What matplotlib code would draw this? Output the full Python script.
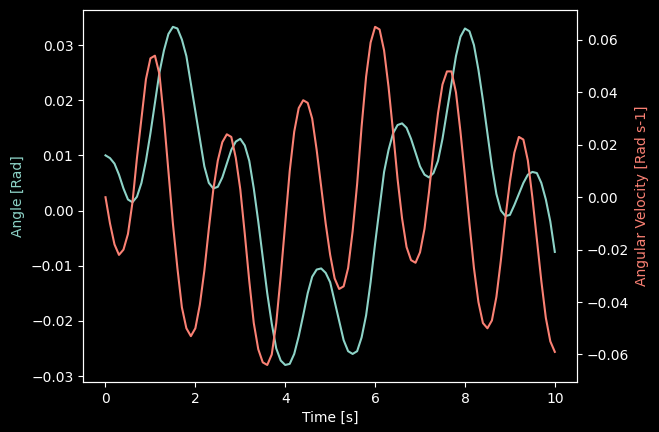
import matplotlib
matplotlib.use("Agg")
import matplotlib.pyplot as plt

plt.style.use("dark_background")

time_s = [round(0.1 * i, 1) for i in range(101)]
angle = [
    0.010, 0.0095, 0.0085, 0.0065, 0.004, 0.002, 0.0015, 0.0025, 0.005, 0.009,
    0.014, 0.0195, 0.025, 0.029, 0.032, 0.0333, 0.033, 0.031, 0.028, 0.023,
    0.018, 0.013, 0.008, 0.005, 0.004, 0.0043, 0.006, 0.0085, 0.011, 0.0125,
    0.013, 0.0118, 0.009, 0.004, -0.002, -0.0085, -0.015, -0.0205, -0.025, -0.0272,
    -0.028, -0.0278, -0.026, -0.0228, -0.019, -0.015, -0.012, -0.0107, -0.0105, -0.0113,
    -0.013, -0.0165, -0.020, -0.0235, -0.0255, -0.026, -0.0255, -0.023, -0.019, -0.013,
    -0.006, 0.0005, 0.007, 0.011, 0.014, 0.0155, 0.0158, 0.015, 0.013, 0.0105,
    0.008, 0.0065, 0.006, 0.0068, 0.009, 0.013, 0.018, 0.023, 0.028, 0.0315,
    0.033, 0.0325, 0.030, 0.0255, 0.020, 0.014, 0.008, 0.003, 0.000, -0.001,
    -0.0008, 0.001, 0.003, 0.005, 0.0065, 0.007, 0.0068, 0.005, 0.002, -0.002,
    -0.0075,
]
ang_vel = [
    0.0, -0.010, -0.018, -0.022, -0.020, -0.014, -0.002, 0.015, 0.030, 0.045,
    0.053, 0.054, 0.047, 0.030, 0.010, -0.010, -0.027, -0.042, -0.050, -0.053,
    -0.050, -0.041, -0.028, -0.012, 0.003, 0.014, 0.021, 0.024, 0.023, 0.015,
    0.003, -0.014, -0.032, -0.048, -0.058, -0.063, -0.064, -0.060, -0.048, -0.030,
    -0.010, 0.010, 0.025, 0.034, 0.037, 0.036, 0.030, 0.018, 0.004, -0.010,
    -0.022, -0.031, -0.035, -0.034, -0.027, -0.013, 0.005, 0.027, 0.046, 0.059,
    0.065, 0.064, 0.056, 0.042, 0.025, 0.007, -0.008, -0.019, -0.024, -0.025,
    -0.021, -0.012, 0.002, 0.018, 0.032, 0.043, 0.048, 0.048, 0.040, 0.025,
    0.008, -0.010, -0.027, -0.040, -0.048, -0.050, -0.047, -0.038, -0.024, -0.008,
    0.006, 0.017, 0.023, 0.022, 0.014, 0.000, -0.016, -0.032, -0.046, -0.055,
    -0.059,
]

c1, c2 = "#8dd3c7", "#fa8174"
fig, ax = plt.subplots(figsize=(6.59, 4.32), dpi=100)
ax.plot(time_s, angle, color=c1)
ax.set_xlabel("Time [s]")
ax.set_ylabel("Angle [Rad]", color=c1)
ax2 = ax.twinx()
ax2.plot(time_s, ang_vel, color=c2)
ax2.set_ylabel("Angular Velocity [Rad s-1]", color=c2)
fig.subplots_adjust(left=0.126, right=0.876, top=0.977, bottom=0.116)
plt.savefig("out.png")
